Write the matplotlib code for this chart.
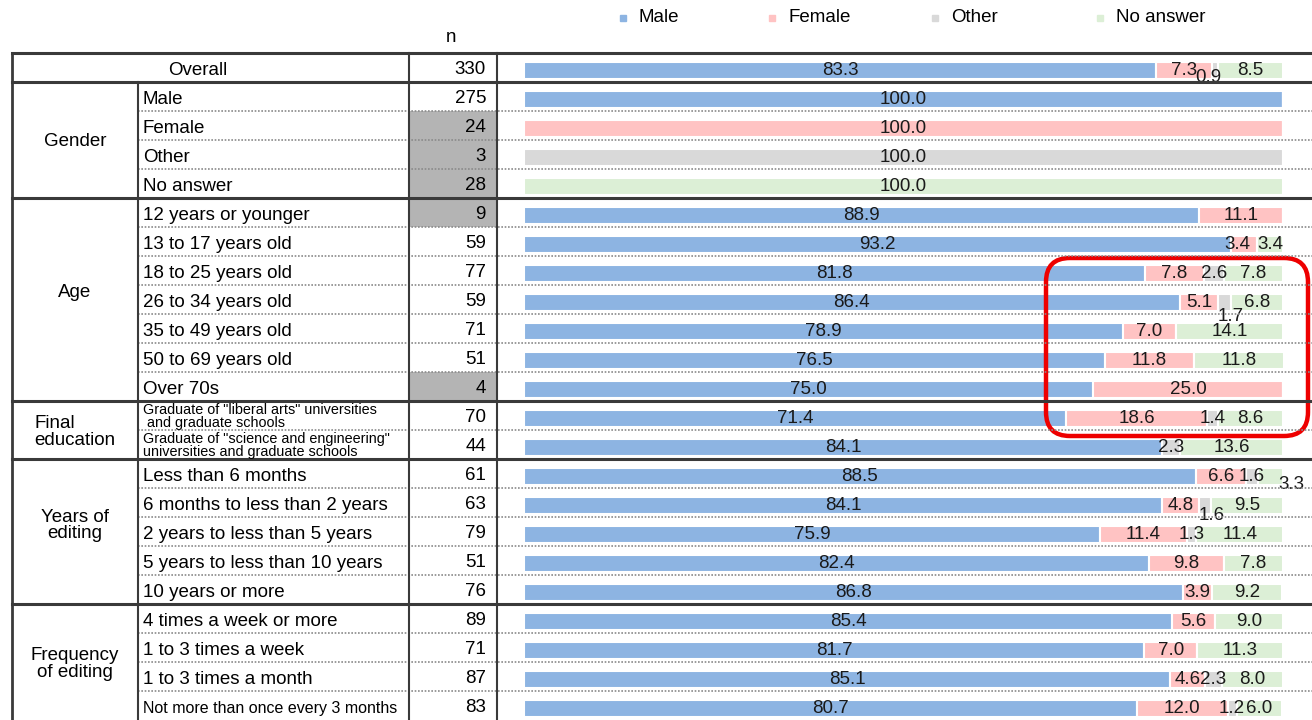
import numpy as np
import matplotlib
matplotlib.use("Agg")
import matplotlib.pyplot as plt
from matplotlib.patches import Rectangle, FancyBboxPatch

plt.rcParams['font.family'] = ['Liberation Sans', 'DejaVu Sans']

# ---- data ----
row_labels = [
    "Overall",
    "Male", "Female", "Other", "No answer",
    "12 years or younger", "13 to 17 years old", "18 to 25 years old",
    "26 to 34 years old", "35 to 49 years old", "50 to 69 years old", "Over 70s",
    "Graduate of \"liberal arts\" universities\n and graduate schools",
    "Graduate of \"science and engineering\"\nuniversities and graduate schools",
    "Less than 6 months", "6 months to less than 2 years",
    "2 years to less than 5 years", "5 years to less than 10 years",
    "10 years or more",
    "4 times a week or more", "1 to 3 times a week", "1 to 3 times a month",
    "Not more than once every 3 months",
]
n_vals = [330, 275, 24, 3, 28, 9, 59, 77, 59, 71, 51, 4, 70, 44,
          61, 63, 79, 51, 76, 89, 71, 87, 83]
male = [83.3, 100, 0, 0, 0, 88.9, 93.2, 81.8, 86.4, 78.9, 76.5, 75.0, 71.4, 84.1,
        88.5, 84.1, 75.9, 82.4, 86.8, 85.4, 81.7, 85.1, 80.7]
female = [7.3, 0, 100, 0, 0, 11.1, 3.4, 7.8, 5.1, 7.0, 11.8, 25.0, 18.6, 0,
          6.6, 4.8, 11.4, 9.8, 3.9, 5.6, 7.0, 4.6, 12.0]
other = [0.9, 0, 0, 100, 0, 0, 0, 2.6, 1.7, 0, 0, 0, 1.4, 2.3,
         1.6, 1.6, 1.3, 0, 0, 0, 0, 2.3, 1.2]
no_answer = [8.5, 0, 0, 0, 100, 0, 3.4, 7.8, 6.8, 14.1, 11.8, 0, 8.6, 13.6,
             3.3, 9.5, 11.4, 7.8, 9.2, 9.0, 11.3, 8.0, 6.0]
series_names = ["Male", "Female", "Other", "No answer"]

# groups: (label, first row, last row)
groups = [("Gender", 1, 4), ("Age", 5, 11), ("Final\neducation", 12, 13),
          ("Years of\nediting", 14, 18), ("Frequency\nof editing", 19, 22)]
group_dy = [2, -7, 2, -6, 2]

colors = ["#8db4e2", "#ffc3c3", "#d9d9d9", "#dcefd6"]

# labels that were pushed off-centre in the original (row, series) -> offset pts
nudges = {(0, 2): (-5, -5), (6, 1): (-5, 0), (8, 2): (4, -10),
          (14, 3): (15, -6), (15, 2): (5, -7)}

# ---- layout (pixels) ----
W, H = 1312, 720
top = 53
row_h = 29
x_left, x_cat, x_lab, x_n, x_bar = 12, 138, 409, 497, 524
x_full = 1283
shift = 3  # bars and text sit a bit below the row centre

fig = plt.figure(figsize=(W / 100, H / 100), dpi=100)

tab = fig.add_axes([0, 0, 1, 1])
tab.set_xlim(0, W)
tab.set_ylim(H, 0)
tab.axis("off")
tab.patch.set_visible(False)

scale = (x_full - x_bar) / 100.0
bx = fig.add_axes([x_n / W, -shift / H, (W - x_n) / W, (H - top) / H])
bx.set_xlim(-(x_bar - x_n) / scale, 100 + (W - x_full) / scale)
bx.set_ylim(22.5, -0.5)
bx.axis("off")
bx.set_zorder(1)
tab.set_zorder(2)

# ---- bars ----
rows = np.arange(len(row_labels))
data = np.array([male, female, other, no_answer])
left = np.zeros(len(rows))
for k, vals in enumerate(data):
    bx.barh(rows, vals, left=left, height=0.6, color=colors[k],
            edgecolor="white", linewidth=1.5)
    for i, v in enumerate(vals):
        if v <= 0:
            continue
        dx, dy = nudges.get((i, k), (0, 0))
        bx.annotate(f"{v:.1f}", (left[i] + v / 2, i), xytext=(dx, dy),
                    textcoords="offset points", ha="center", va="center",
                    fontsize=13.5, color="#1a1a1a")
    left += vals

# ---- table ----
dark = "#3a3a3a"
n_rows = len(row_labels)
bottom = top + row_h * n_rows

# shaded n cells for small samples
for i, n in enumerate(n_vals):
    if n < 30:
        tab.add_patch(Rectangle((x_lab, top + row_h * i), x_n - x_lab, row_h,
                                facecolor="#b4b4b4", edgecolor="none", zorder=0))

group_ends = [0] + [g[2] for g in groups]
tab.plot([x_left, W], [top, top], color=dark, lw=2.2)
for i in range(n_rows - 1):
    y = top + row_h * (i + 1)
    if i in group_ends:
        tab.plot([x_left, W], [y, y], color=dark, lw=2.2)
    else:
        tab.plot([x_cat, W], [y, y], color="#8a8a8a", lw=1.2, ls=(0, (1, 1)))

tab.plot([x_left, x_left], [top, bottom], color=dark, lw=2)
tab.plot([x_cat, x_cat], [top + row_h, bottom], color=dark, lw=1.5)
tab.plot([x_lab, x_lab], [top, bottom], color=dark, lw=1.5)
tab.plot([x_n, x_n], [top, bottom], color=dark, lw=1.5)

# text
tab.text(198, top + row_h * 0.5 + shift, "Overall", ha="center", va="center",
         fontsize=13.5)
for i in range(1, n_rows):
    lab = row_labels[i]
    fs = 13.5
    dy = shift
    if "\n" in lab:
        fs = 10.4
        dy = 1
    elif len(lab) > 30:
        fs = 11.5
    tab.text(143, top + row_h * (i + 0.5) + dy, lab, ha="left", va="center",
             fontsize=fs, linespacing=0.82)
for i, n in enumerate(n_vals):
    tab.text(486, top + row_h * (i + 0.5) + shift - 1, str(n), ha="right",
             va="center", fontsize=13.5)
for (name, r0, r1), dy in zip(groups, group_dy):
    yc = top + row_h * (r0 + r1 + 1) / 2
    tab.text(75, yc + dy, name, ha="center", va="center", fontsize=13.5,
             multialignment="left" if name.startswith("Final") else "center",
             linespacing=1.0)

tab.text(451, 38, "n", ha="center", va="center", fontsize=13.5)

# legend
leg_x = [623, 772, 935, 1100]
for x, c, name in zip(leg_x, colors, series_names):
    tab.plot(x, 18, marker="s", ms=5, color=c, mec=c)
    tab.text(x + 16, 17, name, ha="left", va="center", fontsize=13.5)

# red highlight box
tab.add_patch(FancyBboxPatch((1058, 270), 238, 154,
                             boxstyle="round,pad=12,rounding_size=24",
                             facecolor="none", edgecolor="#ee0000", lw=3.2))

fig.savefig("out.png", dpi=100)
